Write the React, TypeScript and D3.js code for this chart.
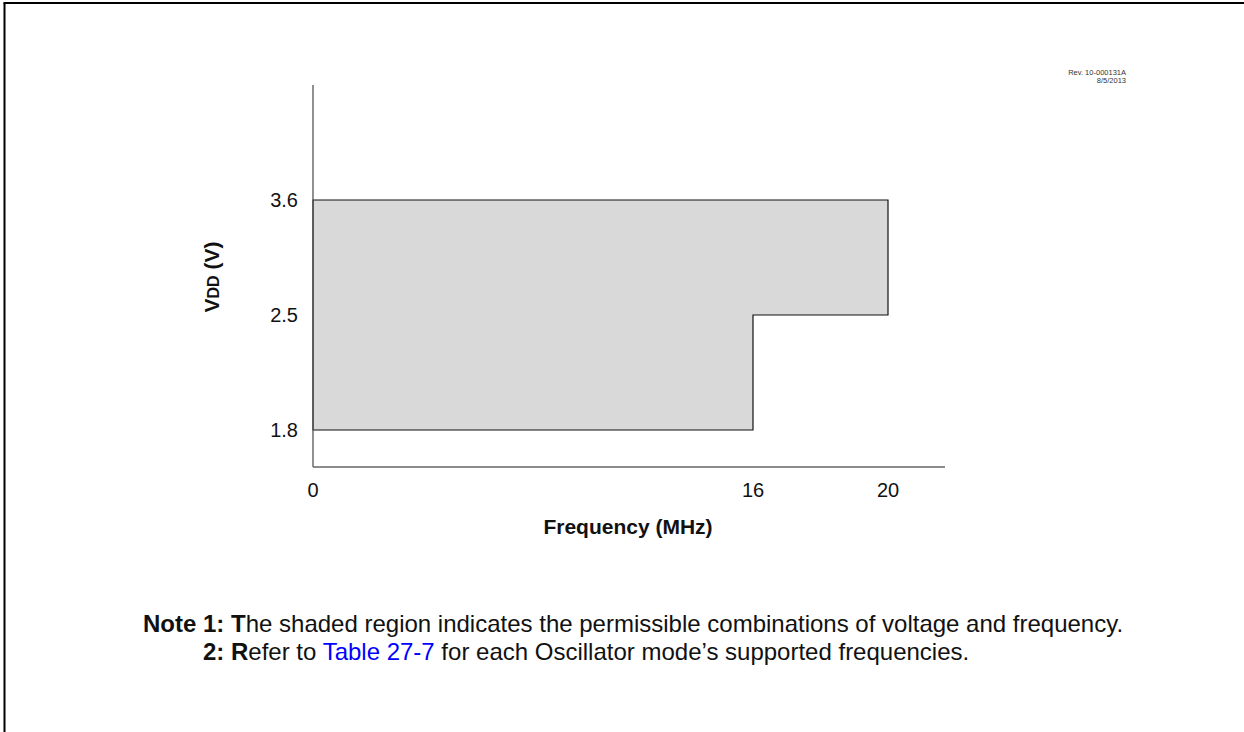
import React from "react";
import * as d3 from "d3";

// Data
const freqTicks = [0, 16, 20];
const vddTicks = [1.8, 2.5, 3.6];
const regionFreq = [0, 16, 16, 20, 20, 0];
const regionVdd = [1.8, 1.8, 2.5, 2.5, 3.6, 3.6];
const xTitle = "Frequency (MHz)";
const revLines = ["Rev. 10-000131A", "8/5/2013"];

const W = 1244;
const H = 732;
const FONT = "'Liberation Sans', Arial, Helvetica, sans-serif";

export default function App() {
  // schematic (piecewise) scales, as in the reference figure
  const x = d3.scaleLinear().domain(freqTicks).range([313, 753, 888]);
  const y = d3.scaleLinear().domain(vddTicks).range([430, 315, 200]);
  const axisLeft = 313;
  const axisBottom = 467;
  const axisRight = 945;
  const axisTop = 85;

  const line = d3
    .line<number>()
    .x((_, i) => x(regionFreq[i]))
    .y((_, i) => y(regionVdd[i]))
    .curve(d3.curveLinearClosed);
  const pathD = line(regionFreq) || "";

  return (
    <svg
      width={W}
      height={H}
      style={{ position: "absolute", left: 0, top: 0, background: "#fff" }}
      fontFamily={FONT}
    >
      {/* frame */}
      <line x1={4.5} y1={3} x2={4.5} y2={H} stroke="#000" strokeWidth={2} />
      <line x1={3.5} y1={3} x2={W} y2={3} stroke="#000" strokeWidth={2} />

      {/* region */}
      <path d={pathD} fill="#d9d9d9" stroke="#111" strokeWidth={1.2} />

      {/* axes */}
      <line x1={axisLeft} y1={axisTop} x2={axisLeft} y2={axisBottom} stroke="#555" strokeWidth={1.3} />
      <line x1={axisLeft} y1={axisBottom} x2={axisRight} y2={axisBottom} stroke="#666" strokeWidth={1.5} />

      {/* x ticks */}
      {freqTicks.map((t) => (
        <text key={"x" + t} x={x(t)} y={497} fontSize={20} textAnchor="middle" fill="#111">
          {t}
        </text>
      ))}
      {/* y ticks */}
      {vddTicks.map((t) => (
        <text key={"y" + t} x={298} y={y(t) + 7} fontSize={20} textAnchor="end" fill="#111">
          {t.toFixed(1)}
        </text>
      ))}

      {/* axis titles */}
      <text x={628} y={534} fontSize={21} fontWeight="bold" textAnchor="middle" fill="#111">
        {xTitle}
      </text>
      <text
        transform={`translate(219,277) rotate(-90)`}
        fontSize={21}
        fontWeight="bold"
        textAnchor="middle"
        fill="#111"
      >
        <tspan>V</tspan>
        <tspan fontSize={16}>DD</tspan>
        <tspan> (V)</tspan>
      </text>

      {/* revision */}
      {revLines.map((s, i) => (
        <text key={s} x={1126} y={75 + i * 8} fontSize={7.5} textAnchor="end" fill="#333">
          {s}
        </text>
      ))}

      {/* notes */}
      <text x={143} y={632} fontSize={24} fill="#111">
        <tspan fontWeight="bold">Note 1: T</tspan>
        <tspan>he shaded region indicates the permissible combinations of voltage and frequency.</tspan>
      </text>
      <text x={203} y={660} fontSize={24} fill="#111">
        <tspan fontWeight="bold">2: R</tspan>
        <tspan>efer to </tspan>
        <tspan fill="#0000ff">Table 27-7</tspan>
        <tspan> for each Oscillator mode’s supported frequencies.</tspan>
      </text>
    </svg>
  );
}
